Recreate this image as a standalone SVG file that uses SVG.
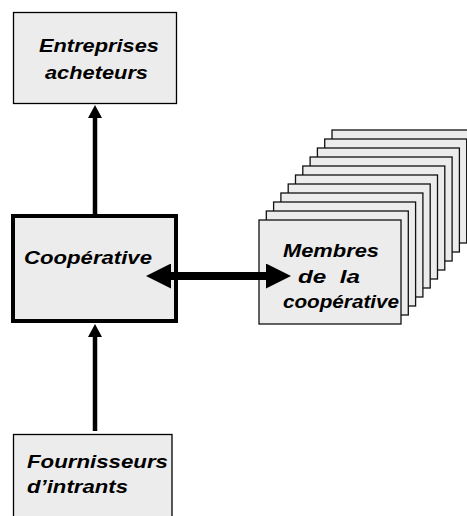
<svg xmlns="http://www.w3.org/2000/svg" width="467" height="516" viewBox="0 0 467 516">
<style>
.box{fill:#ececec;stroke:#000;stroke-width:1.3}
.card{fill:#ececec;stroke:#111;stroke-width:1.3}
.coop{fill:#ececec;stroke:#000;stroke-width:4}
.lbl{font-family:"Liberation Sans",Arial,sans-serif;font-weight:bold;font-style:italic;font-size:18px;fill:#000}
.thin{stroke:#000;stroke-width:4.5;fill:none}
.thick{stroke:#000;stroke-width:8;fill:none}
</style>
<defs>
<marker id="h1" markerUnits="userSpaceOnUse" viewBox="0 -7 13 14" markerWidth="13" markerHeight="14" refX="1" refY="0" orient="auto">
<path d="M0,-7 L13,0 L0,7 Z" fill="#000"/>
</marker>
<marker id="h2" markerUnits="userSpaceOnUse" viewBox="0 -12.5 25 25" markerWidth="25" markerHeight="25" refX="1" refY="0" orient="auto-start-reverse">
<path d="M0,-12.5 L25,0 L0,12.5 Z" fill="#000"/>
</marker>
</defs>
<rect width="467" height="516" fill="#fff"/>
<g id="entreprises">
<rect class="box" x="13.5" y="12.5" width="163" height="91"/>
<text class="lbl" x="39" y="52" textLength="120" lengthAdjust="spacingAndGlyphs">Entreprises</text>
<text class="lbl" x="45" y="79" textLength="103" lengthAdjust="spacingAndGlyphs">acheteurs</text>
</g>
<g id="cooperative">
<rect class="coop" x="13" y="216" width="163" height="105"/>
<text class="lbl" x="24" y="264" textLength="128" lengthAdjust="spacingAndGlyphs">Coopérative</text>
</g>
<g id="membres">
<rect class="card" x="332" y="130" width="142" height="104"/>
<rect class="card" x="324.7" y="139" width="142" height="104"/>
<rect class="card" x="317.4" y="148" width="142" height="104"/>
<rect class="card" x="310.1" y="157" width="142" height="104"/>
<rect class="card" x="302.8" y="166" width="142" height="104"/>
<rect class="card" x="295.5" y="175" width="142" height="104"/>
<rect class="card" x="288.2" y="184" width="142" height="104"/>
<rect class="card" x="280.9" y="193" width="142" height="104"/>
<rect class="card" x="273.6" y="202" width="142" height="104"/>
<rect class="card" x="266.3" y="211" width="142" height="104"/>
<rect class="card" x="259" y="220" width="142" height="104"/>
<text class="lbl" x="283" y="257" textLength="96" lengthAdjust="spacingAndGlyphs">Membres</text>
<text class="lbl" x="298" y="283" textLength="62" lengthAdjust="spacingAndGlyphs" xml:space="preserve">de  la</text>
<text class="lbl" x="283" y="308" textLength="116" lengthAdjust="spacingAndGlyphs">coopérative</text>
</g>
<g id="fournisseurs">
<rect class="box" x="13.5" y="434.5" width="158.5" height="90"/>
<text class="lbl" x="27" y="468" textLength="141" lengthAdjust="spacingAndGlyphs">Fournisseurs</text>
<text class="lbl" x="27" y="493" textLength="101" lengthAdjust="spacingAndGlyphs">d’intrants</text>
</g>
<g id="connectors">
<line class="thin" x1="95" y1="214" x2="95" y2="117" marker-end="url(#h1)"/>
<line class="thin" x1="95" y1="431" x2="95" y2="336" marker-end="url(#h1)"/>
<line class="thick" x1="170" y1="276" x2="267" y2="276" marker-start="url(#h2)" marker-end="url(#h2)"/>
</g>
</svg>
